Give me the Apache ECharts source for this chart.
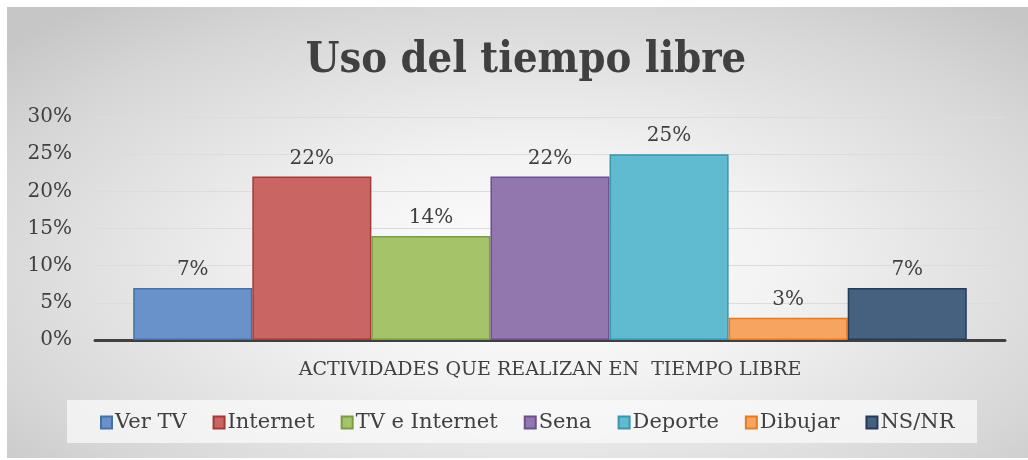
<!DOCTYPE html>
<html>
<head>
<meta charset="utf-8">
<script src="https://cdn.jsdelivr.net/npm/echarts@6/dist/echarts.min.js"></script>
<style>
  html, body { margin: 0; padding: 0; background: #ffffff; }
  #wrap { position: absolute; left: 7px; top: 7px; width: 1021px; height: 451px;
          background: radial-gradient(ellipse 70% 75% at 52% 58%, #ffffff 0%, #f2f2f2 35%, #d6d6d6 80%, #c6c6c6 100%); }
  #chart { position: absolute; left: -7px; top: -7px; width: 1028px; height: 460px; }
</style>
</head>
<body>
<div id="wrap"><div id="chart"></div></div>
<script>
// Free-time activities survey
const title = 'Uso del tiempo libre';
const category = ['ACTIVIDADES QUE REALIZAN EN  TIEMPO LIBRE'];
const activities = ['Ver TV', 'Internet', 'TV e Internet', 'Sena', 'Deporte', 'Dibujar', 'NS/NR'];
const shares = [7, 22, 14, 22, 25, 3, 7];   // percent
const fills   = ['#6892c9', '#c96663', '#a5c46a', '#9177ae', '#60bbd1', '#f6a460', '#46617f'];
const borders = ['#4670a8', '#a03b38', '#7d9b45', '#6b508c', '#3a95ad', '#e87a20', '#243b5b'];
const yTicks = [0, 5, 10, 15, 20, 25, 30];

const serifNarrow = '"DejaVu Serif Condensed", "Liberation Serif", serif';
const serif = '"DejaVu Serif", "Liberation Serif", serif';

const series = activities.map((name, i) => ({
  name: name,
  type: 'bar',
  data: [shares[i]],
  barGap: '0%',
  barCategoryGap: '8.4%',
  itemStyle: { color: fills[i], borderColor: borders[i], borderWidth: 1.5 },
  label: {
    show: true, position: 'top', distance: 8,
    formatter: p => p.value + '%',
    fontFamily: serif, fontSize: 20, color: '#404040'
  }
}));

const chart = echarts.init(document.getElementById('chart'), null, { renderer: 'canvas' });
chart.setOption({
  animation: false,
  backgroundColor: 'transparent',
  title: {
    text: title, left: 521, textAlign: 'center', top: 34,
    textStyle: { fontFamily: serifNarrow, fontSize: 43, fontWeight: 'bold', color: '#404040' }
  },
  graphic: [{
    type: 'rect', z: 0,
    shape: { x: 67, y: 400, width: 910, height: 43 },
    style: { fill: 'rgba(250,250,250,0.75)' }
  }],
  legend: {
    data: activities, bottom: 22, left: 95,
    itemWidth: 11, itemHeight: 12, itemGap: 26,
    icon: 'rect',
    textStyle: { fontFamily: serif, fontSize: 21, color: '#404040', padding: [0, 0, 0, -2] }
  },
  grid: { left: 95, right: 23, top: 117, bottom: 120 },
  xAxis: {
    type: 'category', data: category,
    axisLine: { lineStyle: { color: '#404040', width: 3 } },
    axisTick: { show: false },
    axisLabel: { margin: 21, fontFamily: serif, fontSize: 19, color: '#404040' }
  },
  yAxis: {
    type: 'value', min: yTicks[0], max: yTicks[yTicks.length - 1], interval: 5,
    axisLine: { show: false }, axisTick: { show: false },
    splitLine: { lineStyle: { color: '#dcdcdc', width: 1 } },
    axisLabel: { margin: 23, formatter: v => v + '%', fontFamily: serif, fontSize: 20, color: '#404040' }
  },
  series: series
});
</script>
</body>
</html>
